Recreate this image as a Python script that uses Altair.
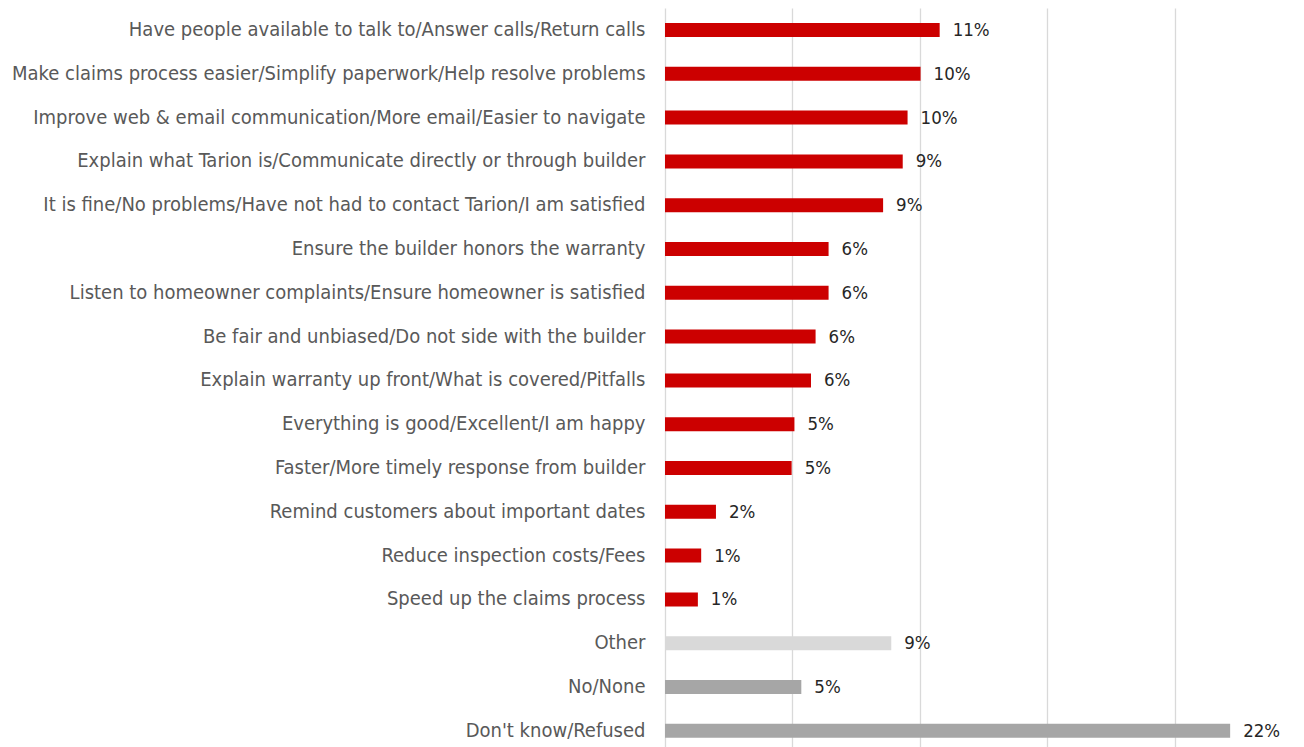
import altair as alt
import pandas as pd

categories = [
    "Have people available to talk to/Answer calls/Return calls",
    "Make claims process easier/Simplify paperwork/Help resolve problems",
    "Improve web & email communication/More email/Easier to navigate",
    "Explain what Tarion is/Communicate directly or through builder",
    "It is fine/No problems/Have not had to contact Tarion/I am satisfied",
    "Ensure the builder honors the warranty",
    "Listen to homeowner complaints/Ensure homeowner is satisfied",
    "Be fair and unbiased/Do not side with the builder",
    "Explain warranty up front/What is covered/Pitfalls",
    "Everything is good/Excellent/I am happy",
    "Faster/More timely response from builder",
    "Remind customers about important dates",
    "Reduce inspection costs/Fees",
    "Speed up the claims process",
    "Other",
    "No/None",
    "Don't know/Refused",
]
values = [0.1078, 0.1003, 0.0952, 0.0933, 0.0856, 0.0642, 0.0642, 0.0591,
          0.0573, 0.0508, 0.0497, 0.0200, 0.0142, 0.0129, 0.0888, 0.0535, 0.2218]
groups = ["main"] * 14 + ["other", "none", "none"]

df = pd.DataFrame({"category": categories, "value": values, "group": groups})

FONT = "DejaVu Sans Condensed, sans-serif"

y_enc = alt.Y("category:N", sort=categories, title=None,
              scale=alt.Scale(paddingInner=0.68, paddingOuter=0.276, align=0.62),
              axis=alt.Axis(ticks=False, domain=False, labelPadding=20,
                            labelFontSize=20, labelColor="#595959", labelLimit=700,
                            labelFont=FONT))
x_enc = alt.X("value:Q", title=None,
              scale=alt.Scale(domain=[0, 0.25], nice=False),
              axis=alt.Axis(values=[0, 0.05, 0.1, 0.15, 0.2], labels=False, ticks=False,
                            domain=False, grid=True, gridColor="#d9d9d9", gridWidth=1.3))

bars = alt.Chart(df).mark_bar().encode(
    x=x_enc,
    y=y_enc,
    color=alt.Color("group:N",
                    scale=alt.Scale(domain=["main", "other", "none"],
                                    range=["#cc0000", "#d9d9d9", "#a6a6a6"]),
                    legend=None),
)

text = alt.Chart(df).mark_text(align="left", baseline="middle", dx=13, dy=0,
                               fontSize=18.5, color="#262626", font=FONT).encode(
    x=alt.X("value:Q"),
    y=alt.Y("category:N", sort=categories),
    text=alt.Text("value:Q", format=".0%"),
)

chart = (bars + text).properties(
    width=637, height=739,
    padding={"left": 665, "top": 8, "right": 2, "bottom": 0},
    autosize=alt.AutoSizeParams(type="none"),
).configure_view(stroke=None)

chart.save("out.html", embed_options={"renderer": "svg", "actions": False})
